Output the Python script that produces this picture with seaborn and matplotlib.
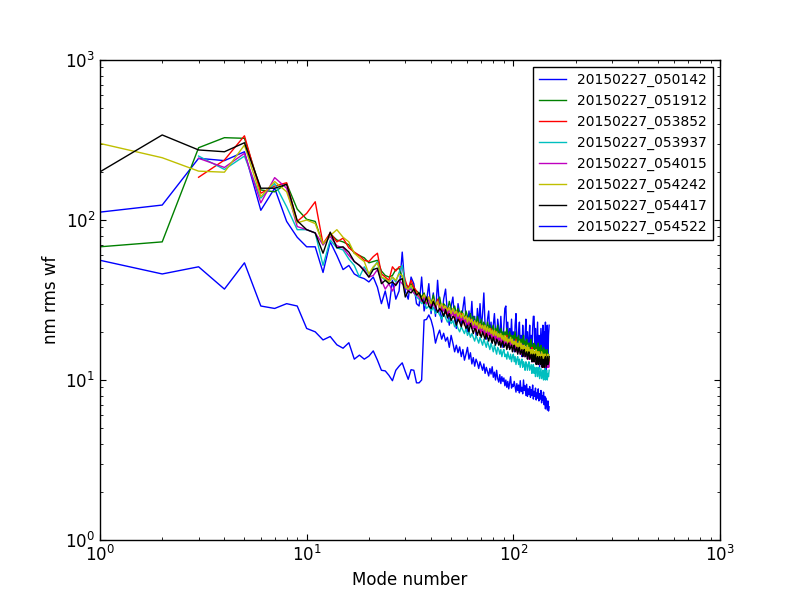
import numpy as np
import pandas as pd
import matplotlib
matplotlib.use("Agg")
import matplotlib.pyplot as plt
import seaborn as sns

# mode numbers 1..149 (red, cyan and magenta start at mode 3)
modes = list(range(1, 150))

labels = ["20150227_050142", "20150227_051912", "20150227_053852", "20150227_053937",
          "20150227_054015", "20150227_054242", "20150227_054417", "20150227_054522"]
colors = ["#0000ff", "#008000", "#ff0000", "#00bfbf", "#bf00bf", "#bfbf00", "#000000", "#0000ff"]
start_mode = [1, 1, 3, 3, 3, 1, 1, 1]

rms_050142 = [112, 124, 243, 235, 267, 115, 158, 98, 78, 68,
              68, 47, 73, 60, 49, 52, 46, 44, 43, 41,
              44, 38, 30, 36, 28, 42, 32, 36, 63, 36,
              32, 44, 40, 30, 29,
              44, 27, 31, 40, 26, 35, 25, 42, 28, 23,
              32, 37, 26, 22, 29, 33, 24, 21, 30, 26,
              22, 28, 33, 24, 20, 27, 23, 31, 21, 25,
              19, 28, 22, 30, 21, 26, 35, 22, 18, 24,
              27, 19, 23, 17, 22, 26, 20, 17, 24, 21,
              18, 25, 19, 16, 22, 28, 29, 19, 23, 16,
              21, 18, 24, 17, 20, 15, 22, 26, 18, 15,
              20, 23, 16, 19, 14, 22, 17, 14, 19, 24,
              16, 20, 14, 18, 22, 15, 19, 13, 21, 25,
              25, 16, 21, 13, 17, 23, 14, 19, 12, 16,
              21, 13, 18, 22, 12, 20, 15, 23, 11, 17,
              22, 13, 19, 22]

rms_051912 = [68, 73, 283, 327, 324, 154, 150, 169, 117, 101,
              98, 70, 82, 75, 73, 70, 62, 60, 58, 54,
              55, 56, 48, 45, 44, 45, 49, 50, 44, 40,
              38, 40, 37, 36, 35,
              33, 35, 31, 32, 30, 34, 29, 31, 33, 28,
              30, 29, 27, 31, 28, 27, 29, 26, 28, 25,
              27, 26, 24, 27, 25, 24, 26, 23, 25, 24,
              22, 25, 23, 22, 24, 21, 23, 22, 20, 23,
              21, 22, 20, 21, 22, 19, 21, 20, 22, 19,
              20, 21, 19, 20, 18, 20, 19, 21, 18, 19,
              20, 18, 19, 17.5, 19, 18, 20, 17, 18.5, 17.5,
              19, 17, 18, 16.5, 18, 17, 19, 16, 17.5, 16.5,
              18, 16, 17, 15.5, 17, 16, 18, 15.5, 16.5, 15,
              17, 15.5, 16.5, 14.5, 16, 15, 17, 14.5, 16, 15,
              16.5, 14, 15.5, 14.5, 16, 14, 15.5, 13.5, 15, 14,
              15.5, 13.5, 14.5, 13]

rms_053852 = [185, 237, 336, 147, 163, 171, 98, 110,
              130, 71, 83, 73, 77, 67, 63, 60, 56, 55,
              59, 62, 46, 44, 42, 51, 48, 51, 51, 42,
              37, 42, 38, 36, 33,
              32, 34, 30, 33, 29, 31, 28, 32, 29, 27,
              29, 26, 28, 25, 27, 26, 24, 27, 25, 23,
              26, 24, 22, 25, 23, 22, 24, 21, 23, 22,
              20, 23, 21, 19, 22, 20, 21, 19, 21, 18.5,
              20, 19, 21, 18, 19.5, 18, 20, 17.5, 19, 18,
              17, 19, 17.5, 18.5, 16.5, 18, 17, 19, 16, 17.5,
              16.5, 18, 16, 17, 15.5, 17, 16, 18, 15, 16.5,
              15.5, 17, 15, 16, 14.5, 16.5, 15, 16, 14, 15.5,
              14.5, 16, 14, 15, 13.5, 15, 14, 16, 13.5, 14.5,
              13, 15, 14, 15.5, 13, 14, 13.5, 15, 12.5, 14,
              13, 14.5, 12.5, 13.5, 12, 14, 13, 14.5, 12, 13.5,
              12.5, 14, 12, 13.5]

rms_053937 = [251, 207, 251, 137, 169, 121, 87, 87,
              83, 52, 75, 67, 65, 57, 52, 44, 51, 46,
              50, 55, 44, 42, 41, 44, 41, 47, 52, 39,
              36, 38, 35, 33, 32,
              30, 31, 28, 29, 27, 28.5, 26, 27, 25.5, 24,
              26, 24.5, 23, 24, 22.5, 23.5, 21.5, 22.5, 21, 20,
              21.5, 20.5, 19.5, 21, 19, 20, 18.5, 19.5, 18.5, 17.5,
              19, 18, 17, 18.5, 17.5, 16.5, 18, 17, 16, 17.5,
              16.5, 15.5, 17, 16, 15, 16.5, 15.5, 14.5, 16, 15.5,
              14.5, 15.5, 14, 15, 15.5, 14, 14.5, 13.5, 15, 14,
              13.5, 14.5, 13, 14, 14.5, 13, 14, 12.5, 13.5, 14,
              12.5, 13.5, 12, 13, 13.5, 12, 13, 12.5, 11.5, 13,
              12.5, 11.5, 12.5, 13, 11.5, 12, 12.5, 11, 12, 12.5,
              11, 12, 10.5, 11.5, 12, 10.5, 11.5, 12, 10.2, 11,
              11.8, 10.2, 11, 11.5, 10, 11, 11.8, 10, 11, 11.5,
              10, 11, 10.5, 11.5]

rms_054015 = [243, 213, 261, 128, 184, 158, 91, 87,
              83, 70, 79, 69, 67, 60, 55, 52, 49, 44,
              45, 49, 42, 37, 40, 36, 40, 42, 40, 38,
              36, 37, 35, 34, 33,
              31, 33, 30, 32, 29, 30, 28, 31, 27, 29,
              27, 28, 26, 27.5, 25, 27, 25, 26, 24, 25.5,
              23.5, 25, 23, 24, 22, 23.5, 22, 23, 21, 22.5,
              21, 22, 20, 21.5, 20, 21, 19.5, 21, 19, 20.5,
              19, 20, 18.5, 19.5, 18, 19.5, 18, 19, 17.5, 18.5,
              17.5, 18.5, 17, 18, 16.5, 18, 16.5, 17.5, 16, 17,
              16.5, 17.5, 16, 17, 15.5, 16.5, 15.5, 16.5, 15, 16,
              15, 16.5, 14.5, 16, 14.5, 15.5, 14.5, 15.5, 14, 15,
              14, 15.5, 13.5, 15, 13.5, 14.5, 13.5, 14.5, 13, 14.5,
              13, 14, 13, 14.5, 12.5, 14, 13, 14, 12.5, 13.5,
              12.5, 14, 12, 13.5, 12.5, 13.5, 12, 13.5, 12, 13,
              12, 13.5, 12, 13]

rms_054242 = [301, 245, 202, 199, 294, 140, 174, 150, 96, 100,
              95, 71, 80, 87, 78, 73, 62, 58, 55, 46,
              51, 54, 44, 43, 41, 44, 42, 46, 45, 38,
              37, 39, 36, 35, 34,
              32, 34, 31, 33, 30, 32, 29, 31, 28, 30,
              28, 29, 27, 28.5, 26, 28, 26, 27, 25, 26.5,
              24.5, 26, 24, 25, 23, 24.5, 23, 24, 22, 23.5,
              22, 23, 21, 22.5, 21, 22, 20.5, 22, 20, 21.5,
              20, 21, 19.5, 20.5, 19, 20.5, 19, 20, 18.5, 19.5,
              18.5, 19.5, 18, 19, 17.5, 19, 17.5, 18.5, 17, 18,
              17.5, 18.5, 17, 18, 16.5, 17.5, 16.5, 17.5, 16, 17,
              16, 17.5, 15.5, 17, 15.5, 16.5, 15.5, 16.5, 15, 16,
              15, 16.5, 14.5, 16, 14.5, 15.5, 14.5, 15.5, 14, 15.5,
              14, 15, 14, 15.5, 13.5, 15, 14, 15, 13.5, 14.5,
              13.5, 15, 13, 14.5, 13.5, 14.5, 13, 14.5, 13, 14,
              13, 14.5, 13, 14]

rms_054417 = [200, 340, 274, 267, 304, 158, 158, 167, 99, 87,
              83, 62, 84, 67, 68, 63, 55, 52, 48, 44,
              49, 50, 40, 42, 40, 41, 39, 42, 43, 33,
              36, 35, 37, 34, 35,
              32, 30, 33, 29, 28, 31, 29, 26.5, 28, 27,
              25, 27.5, 24.5, 26, 23.5, 25, 24.5, 22, 24, 23,
              21.5, 23.5, 22.5, 21, 22, 20, 22.5, 21, 19.5, 21,
              20.5, 19, 20.5, 19.5, 18.5, 20, 19, 18, 19.5, 18.5,
              17.5, 19, 18, 17, 18.5, 17.5, 16.5, 18, 17.5, 16.5,
              17.5, 16, 17, 17.5, 16, 16.5, 17, 15.5, 16.5, 17,
              15.5, 16, 16.5, 15, 16, 16.5, 15, 15.5, 16, 14.5,
              15.5, 16, 14.5, 15, 15.5, 14, 15, 15.5, 14, 14.5,
              15, 13.5, 14.5, 15, 13.5, 14, 14.5, 13, 14, 14.5,
              13, 14, 14.5, 12.5, 13.5, 14, 12.5, 13.5, 14, 12.5,
              13, 14, 12, 13.5, 13, 12, 13.5, 14, 12, 13,
              14, 12.5, 13, 14]

rms_054522 = [56, 46, 51, 37, 54, 29, 28, 30, 29, 21,
              20, 17.8, 18.7, 16.6, 15.8, 17.1, 13.5, 14.3, 13.5, 14.1,
              15.2, 13.3, 11.5, 11.4, 10.7, 9.9, 11.5, 12.2, 12.8, 11.3,
              10.1, 11.6, 11.5, 9.6, 9.6, 10.0, 23.7, 23.9, 25.5, 23.7,
              21, 17, 19, 20.5, 18, 19.6, 17.5, 18.5, 16, 19,
              17, 15, 16.5, 14.8, 16.1, 14, 15.5, 13.3, 14.5, 16,
              13.5, 14.8, 12.6, 13.8, 12.2, 13.5, 12.8, 11.8, 13, 12.2,
              11.5, 12.6, 11, 12, 11.3, 10.6, 11.8, 10.9, 12.1, 10.4,
              11.2, 10, 11.5, 10.2, 9.7, 10.8, 9.5, 10.5, 9.8, 10.3,
              9.2, 10, 9, 9.8, 8.8, 9.6, 10.5, 8.9, 9.4, 9.1,
              9.8, 9.1, 8.4, 9.5, 8.6, 9.3, 8.3, 9.9, 8.5, 9,
              8.2, 10, 8.6, 9.2, 8, 9.4, 7.9, 8.8, 8.1, 9.1,
              7.8, 8.7, 8, 9.3, 7.6, 8.5, 7.9, 8.9, 7.5, 8.3,
              7.7, 8.8, 7.4, 8.2, 7.6, 8.6, 7.2, 8, 7.5, 8.4,
              7, 7.9, 6.6, 7.7, 7.1, 6.5, 7.4, 6.4, 6.8]

series = [rms_050142, rms_051912, rms_053852, rms_053937,
          rms_054015, rms_054242, rms_054417, rms_054522]

frames = []
for lab, s0, vals in zip(labels, start_mode, series):
    frames.append(pd.DataFrame({"mode": modes[s0 - 1:], "rms": vals, "run": lab}))
df = pd.concat(frames, ignore_index=True)

plt.rcParams["font.family"] = "DejaVu Sans"
plt.rcParams["xtick.direction"] = "in"
plt.rcParams["ytick.direction"] = "in"
plt.rcParams["xtick.top"] = True
plt.rcParams["ytick.right"] = True

fig, ax = plt.subplots(figsize=(8, 6), dpi=100)
fig.subplots_adjust(left=0.125, right=0.9, bottom=0.1, top=0.9)

sns.lineplot(data=df, x="mode", y="rms", hue="run", palette=dict(zip(labels, colors)),
             estimator=None, sort=False, linewidth=1.0, ax=ax)

ax.set_xscale("log")
ax.set_yscale("log")
ax.set_xlim(1, 1000)
ax.set_ylim(1, 1000)
ax.set_xlabel("Mode number", fontsize=12)
ax.set_ylabel("nm rms wf", fontsize=12)
ax.tick_params(which="major", length=4, width=0.8, labelsize=12)
ax.tick_params(which="minor", length=2, width=0.6)
for sp in ax.spines.values():
    sp.set_linewidth(1.0)

handles, _ = ax.get_legend_handles_labels()
leg = ax.legend(handles, labels, loc="upper right", fontsize=10, fancybox=False,
                framealpha=1, edgecolor="black", handlelength=2.0)
leg.get_frame().set_linewidth(1.0)

fig.savefig("out.png", dpi=100, facecolor="white")
